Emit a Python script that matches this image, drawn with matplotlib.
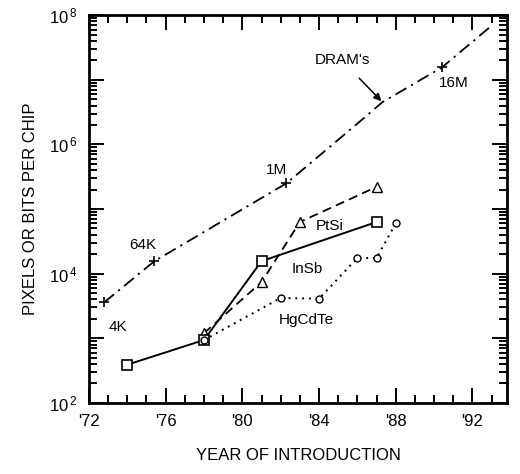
import math
import matplotlib.pyplot as plt
from matplotlib.ticker import FixedLocator, NullFormatter, FuncFormatter

plt.rcParams['font.family'] = ['Liberation Sans', 'DejaVu Sans']

# DRAM trend line (year, bits per chip)
dram_year = [72.8, 75.4, 82.3, 86.0, 87.3, 90.4, 92.9]
dram_bits = [3.6e3, 1.55e4, 2.5e5, 2.1e6, 4.5e6, 1.55e7, 6.5e7]
# labelled DRAM generations
gen_year = [72.8, 75.4, 82.3, 90.4]
gen_bits = [3.6e3, 1.55e4, 2.5e5, 1.55e7]

ptsi_year = [78, 81, 83, 87]
ptsi_pix = [1.2e3, 7.4e3, 6.3e4, 2.2e5]

insb_year = [74, 78, 81, 87]
insb_pix = [390, 940, 1.56e4, 6.3e4]

hgcdte_year = [78, 82, 84, 86, 87, 88]
hgcdte_pix = [940, 4.2e3, 4.1e3, 1.75e4, 1.75e4, 6.0e4]

xtick_vals = [72, 76, 80, 84, 88, 92]
xtick_labels = ["'72", "'76", "'80", "'84", "'88", "'92"]
xminor_vals = [y for y in range(73, 94) if y % 4 != 0]
yminor_vals = [m * 10.0 ** e for e in range(2, 8) for m in range(2, 10)]

fig = plt.figure(figsize=(5.2, 4.74), dpi=100)
ax = fig.add_axes([0.171, 0.150, 0.804, 0.818])

ax.plot(dram_year, dram_bits, color='black', lw=1.3, dashes=(7, 3, 1.2, 3))
ax.plot(gen_year, gen_bits, ls='none', marker='+', color='black', ms=7, mew=1.2)

ax.plot(ptsi_year, ptsi_pix, color='black', lw=1.3, dashes=(5, 3),
        marker='^', ms=7, mfc='white', mec='black', mew=1)
ax.plot(insb_year, insb_pix, color='black', lw=1.4,
        marker='s', ms=7, mfc='white', mec='black', mew=1.2)
ax.plot(hgcdte_year, hgcdte_pix, color='black', lw=1.4, ls=(0, (1, 2.5)),
        marker='o', ms=5, mfc='white', mec='black', mew=1)

ax.set_yscale('log')
ax.set_xlim(72, 93.8)
ax.set_ylim(1e2, 1e8)

ax.set_xticks(xtick_vals)
ax.set_xticklabels(xtick_labels)
ax.set_xticks(xminor_vals, minor=True)

ax.yaxis.set_major_locator(FixedLocator([10.0 ** e for e in range(2, 9)]))
ax.yaxis.set_major_formatter(FuncFormatter(
    lambda v, p: r'$\mathregular{10^{\,%d}}$' % round(math.log10(v))
    if round(math.log10(v)) % 2 == 0 else ''))
ax.set_yticks(yminor_vals, minor=True)
ax.yaxis.set_minor_formatter(NullFormatter())

ax.tick_params(axis='both', which='major', direction='in', top=True, right=True,
               length=11, width=1.4, color='black', labelsize=12, pad=8)
ax.tick_params(axis='both', which='minor', direction='in', top=True, right=True,
               length=6, width=1.4, color='black')
for s in ax.spines.values():
    s.set_linewidth(2)

ax.text(73.5, 1.5e3, "4K", fontsize=11, ha='center', va='center')
ax.text(74.8, 2.75e4, "64K", fontsize=11, ha='center', va='center')
ax.text(81.8, 4.0e5, "1M", fontsize=11, ha='center', va='center')
ax.text(91.0, 9.0e6, "16M", fontsize=11, ha='center', va='center')
ax.text(84.55, 5.4e4, "PtSi", fontsize=11, ha='center', va='center')
ax.text(83.4, 1.2e4, "InSb", fontsize=11, ha='center', va='center')
ax.text(83.35, 1.9e3, "HgCdTe", fontsize=11, ha='center', va='center')
ax.annotate("DRAM's", xy=(87.3, 4.5e6), xytext=(85.2, 2.0e7), fontsize=11,
            ha='center', va='center',
            arrowprops=dict(arrowstyle='-|>', color='black', lw=1.1,
                            shrinkA=8, shrinkB=1))

ax.set_xlabel("YEAR OF INTRODUCTION", fontsize=12, labelpad=14)
ax.set_ylabel("PIXELS OR BITS PER CHIP", fontsize=12, labelpad=8)

fig.savefig("out.png", dpi=100)
